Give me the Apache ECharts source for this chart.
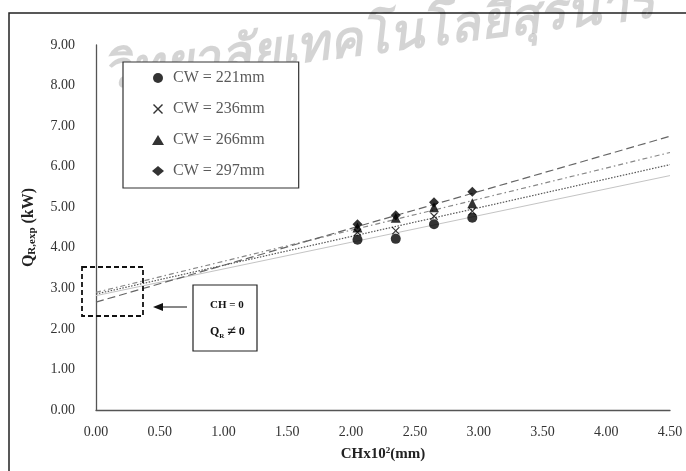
<!DOCTYPE html>
<html><head><meta charset="utf-8">
<script src="https://cdn.jsdelivr.net/npm/echarts@6/dist/echarts.min.js"></script>
<style>html,body{margin:0;padding:0;background:#fff}#c{width:686px;height:471px}</style>
</head><body><div id="c"></div>
<script>
const xValues = [2.05, 2.35, 2.65, 2.95];
const seriesNames = ['CW = 221mm', 'CW = 236mm', 'CW = 266mm', 'CW = 297mm'];
const cw221 = [4.20, 4.22, 4.58, 4.74];
const cw236 = [4.38, 4.42, 4.78, 4.90];
const cw266 = [4.50, 4.74, 5.00, 5.10];
const cw297 = [4.58, 4.80, 5.12, 5.38];
const trendX = [0, 4.5];
const trend221 = [2.82, 5.78];
const trend236 = [2.86, 6.05];
const trend266 = [2.90, 6.35];
const trend297 = [2.66, 6.75];
const xTicks = [0, 0.5, 1, 1.5, 2, 2.5, 3, 3.5, 4, 4.5];
const yTicks = [0, 1, 2, 3, 4, 5, 6, 7, 8, 9];

const values = [cw221, cw236, cw266, cw297];
const trends = [trend221, trend236, trend266, trend297];
const crossPath = 'path://M1,0L5,4L9,0L10,1L6,5L10,9L9,10L5,6L1,10L0,9L4,5L0,1Z';
const symbols = ['circle', crossPath, 'triangle', 'diamond'];
const symbolSizes = [10, 8, 10, 10];
const lineStyles = [
  {color: '#c4c4c4', width: 1, type: 'solid'},
  {color: '#555', width: 1.2, type: [1.5, 1.5]},
  {color: '#888', width: 1.2, type: [5, 3, 1.5, 3]},
  {color: '#666', width: 1.2, type: [8, 4]}
];
const serif = '"Liberation Serif", "Times New Roman", serif';

const series = [];
trends.forEach((t, i) => {
  series.push({
    type: 'line', name: 'trend' + i, silent: true, symbol: 'none',
    data: trendX.map((x, j) => [x, t[j]]),
    lineStyle: lineStyles[i], z: 2
  });
});
values.forEach((v, i) => {
  series.push({
    type: 'scatter', name: seriesNames[i], symbol: symbols[i], symbolSize: symbolSizes[i],
    data: xValues.map((x, j) => [x, v[j]]),
    itemStyle: {color: '#000'}, z: 3
  });
});

const chart = echarts.init(document.getElementById('c'), null, {renderer: 'canvas'});
chart.setOption({
  animation: false,
  backgroundColor: '#fff',
  grid: {left: 96, right: 16, top: 45, bottom: 61},
  xAxis: {
    type: 'value', min: xTicks[0], max: xTicks[xTicks.length - 1], interval: 0.5,
    axisLine: {lineStyle: {color: '#555', width: 1.3}}, axisTick: {show: false}, splitLine: {show: false},
    axisLabel: {margin: 15, fontFamily: serif, fontSize: 14, color: '#333', formatter: v => v.toFixed(2)},
    name: 'CHx10{s|2}(mm)', nameLocation: 'middle', nameGap: 36,
    nameTextStyle: {fontFamily: serif, fontWeight: 'bold', fontSize: 15, color: '#222',
      rich: {s: {fontFamily: serif, fontWeight: 'bold', fontSize: 9, color: '#222', verticalAlign: 'top', padding: [0, 0, 8, 0]}}}
  },
  yAxis: {
    type: 'value', min: yTicks[0], max: yTicks[yTicks.length - 1], interval: 1,
    axisLine: {show: true, lineStyle: {color: '#555', width: 1.3}}, axisTick: {show: false}, splitLine: {show: false},
    axisLabel: {margin: 21, fontFamily: serif, fontSize: 14, color: '#333', formatter: v => v.toFixed(2)},
    name: 'Q{s|R,exp} (kW)', nameLocation: 'middle', nameGap: 58,
    nameTextStyle: {fontFamily: serif, fontWeight: 'bold', fontSize: 16, color: '#222',
      rich: {s: {fontFamily: serif, fontWeight: 'bold', fontSize: 11, color: '#222', padding: [8, 0, 0, 0]}}}
  },
  legend: {
    orient: 'vertical', left: 123, top: 62,
    data: seriesNames,
    backgroundColor: '#fff', borderColor: '#333', borderWidth: 1.2,
    padding: [7, 34, 8, 29], itemGap: 13, itemWidth: 12, itemHeight: 10,
    textStyle: {fontFamily: serif, fontSize: 16, color: '#5a5a5a', lineHeight: 18, padding: [0, 0, 0, 4]}
  },
  series: series,
  graphic: [
    {type: 'text', left: 100, top: -22, rotation: 0.13, z: 0,
      style: {text: 'วิทยาลัยเทคโนโลยีสุรนารี', font: 'italic bold 50px sans-serif', fill: 'rgba(0,0,0,0.17)'}},
    {type: 'rect', shape: {x: 9, y: 13, width: 700, height: 500}, z: -1,
      style: {fill: 'none', stroke: '#222', lineWidth: 1.5}},
    {type: 'rect', shape: {x: 82, y: 267, width: 61, height: 49}, z: 10,
      style: {fill: 'none', stroke: '#111', lineWidth: 1.8, lineDash: [5, 3]}},
    {type: 'line', shape: {x1: 187, y1: 307, x2: 160, y2: 307}, z: 10,
      style: {stroke: '#111', lineWidth: 1}},
    {type: 'polygon', shape: {points: [[153, 307], [163, 303], [163, 311]]}, z: 10,
      style: {fill: '#111'}},
    {type: 'rect', shape: {x: 193, y: 285, width: 64, height: 66}, z: 10,
      style: {fill: '#fff', stroke: '#222', lineWidth: 1.2}},
    {type: 'text', left: 210, top: 300, z: 11,
      style: {text: 'CH = 0', font: 'bold 11px ' + serif, fill: '#111'}},
    {type: 'text', left: 210, top: 324, z: 11,
      style: {text: '{a|Q}{b|R} {c|≠} {a|0}', font: 'bold 11px ' + serif, fill: '#111',
        rich: {a: {font: 'bold 12px ' + serif, fill: '#111'}, b: {font: 'bold 7px ' + serif, fill: '#111', verticalAlign: 'bottom', padding: [6, 0, 0, 0]}, c: {font: 'bold 16px ' + serif, fill: '#111'}}}}
  ]
});
</script></body></html>
